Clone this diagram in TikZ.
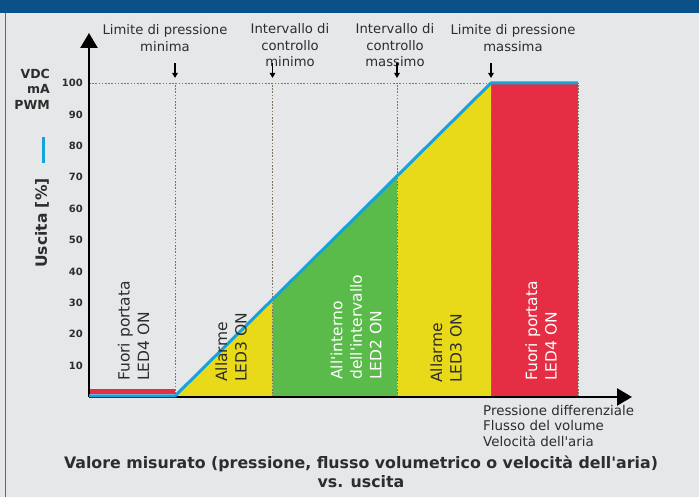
\documentclass[tikz,border=0pt]{standalone}
\usepackage{fontspec}
\setmainfont{DejaVu Sans}[Ligatures=TeXOff]
\usetikzlibrary{arrows.meta}
\definecolor{bgGray}{RGB}{230,231,233}
\definecolor{hdrBlue}{RGB}{11,81,137}
\definecolor{lineBlue}{RGB}{22,162,218}
\definecolor{zoneRed}{RGB}{229,45,68}
\definecolor{zoneYellow}{RGB}{232,218,24}
\definecolor{zoneGreen}{RGB}{90,186,74}
\definecolor{dotGray}{RGB}{125,115,95}
\definecolor{txtGray}{RGB}{45,45,45}

\begin{document}
\begin{tikzpicture}[x=1pt, y=1pt,
        axis/.style={line width=2.4pt, -{Triangle[length=15pt,width=17pt]}},
        marker/.style={line width=1.4pt, -{Triangle[length=5pt,width=5.5pt]}},
        guide/.style={dotGray, line width=0.9pt, dash pattern=on 1.6pt off 1.6pt},
        output/.style={lineBlue, line width=3pt, line join=round},
        toplabel/.style={align=center, text=txtGray, inner sep=0pt, font=\fontsize{13.2}{16.5}\selectfont},
        zonelabel/.style={rotate=90, anchor=west, align=left, inner sep=0pt, font=\fontsize{15.5}{19.5}\selectfont},
        tick/.style={anchor=east, inner sep=0pt, text=txtGray, font=\bfseries\fontsize{10}{12}\selectfont}]
    \useasboundingbox (0,0) rectangle (699,497);
    \fill[bgGray] (0,0) rectangle (699,497);
    \fill[hdrBlue] (0,484) rectangle (699,497);
    \draw[hdrBlue!80, line width=1pt] (5,0) -- (5,484);

    % zones under the output line
    \fill[zoneRed] (89,103) rectangle (175,108);                               % fuori portata, low
    \fill[zoneYellow] (175,100) -- (272.5,196.9) -- (272.5,100) -- cycle;      % allarme, low
    \fill[zoneGreen] (272.5,100) -- (272.5,196.9) -- (397,320.6) -- (397,100) -- cycle;
    \fill[zoneYellow] (397,100) -- (397,320.6) -- (491,414) -- (491,100) -- cycle;
    \fill[zoneRed] (491,100) rectangle (578,414);                              % fuori portata, high

    % guides
    \foreach \x in {175, 272.5, 397, 491, 578}
        \draw[guide] (\x,100) -- (\x,414);
    \draw[guide] (89,414) -- (491,414);

    % axes
    \coordinate (origin) at (89,100);
    \coordinate (ytip) at (89,464);
    \coordinate (xtip) at (632,100);
    \draw[axis] (origin) -- (ytip);
    \draw[axis] (origin) -- (xtip);

    % output
    \coordinate (o0) at (89,101);
    \coordinate (o1) at (175,101);
    \coordinate (o2) at (491,414);
    \coordinate (o3) at (578,414);
    \draw[output] (o0) -- (o1) -- (o2) -- (o3);

    \foreach \y in {10, 20, ..., 100}
        \node[tick] (tick\y) at (83, {100 + 3.14*\y}) {\y};

    \node[anchor=east, align=right, inner sep=0pt, text=txtGray, font=\bfseries\fontsize{12.5}{15.5}\selectfont] (units) at (50,408) {VDC\\mA\\PWM};
    \coordinate (barTop) at (43,360);
    \coordinate (barBot) at (43,334);
    \draw[lineBlue, line width=3pt] (barTop) -- (barBot);
    \node[rotate=90, inner sep=0pt, text=txtGray, font=\bfseries\fontsize{15.5}{18}\selectfont] (ylabel) at (42,274) {Uscita [\%]};

    % set points
    \node[toplabel] (pMin) at (165,459) {Limite di pressione\\minima};
    \node[toplabel] (cMin) at (290,451.5) {Intervallo di\\controllo\\minimo};
    \node[toplabel] (cMax) at (395,451.5) {Intervallo di\\controllo\\massimo};
    \node[toplabel] (pMax) at (513,459) {Limite di pressione\\massima};
    \foreach \x/\n in {175/a, 272.5/b, 397/c, 491/d} {
        \coordinate (from\n) at (\x,434);
        \coordinate (to\n) at (\x,419);
        \draw[marker] (from\n) -- (to\n);
    }

    \node[zonelabel, text=txtGray] (outLow) at (133.5,116) {Fuori portata\\LED4 ON};
    \node[zonelabel, text=txtGray] (alarmLow) at (231,115) {Allarme\\LED3 ON};
    \node[zonelabel, text=white] (inRange) at (356,117) {All'interno\\dell'intervallo\\LED2 ON};
    \node[zonelabel, text=txtGray] (alarmHigh) at (446,114) {Allarme\\LED3 ON};
    \node[zonelabel, text=white] (outHigh) at (541,116) {Fuori portata\\LED4 ON};

    \node[anchor=north west, align=left, inner sep=0pt, text=txtGray, font=\fontsize{13.4}{15.5}\selectfont] (xlabel) at (483,92) {Pressione differenziale\\Flusso del volume\\Velocità dell'aria};
    \node[align=center, inner sep=0pt, text=txtGray, font=\bfseries\fontsize{15.8}{19}\selectfont] (caption) at (361,25.5) {Valore misurato (pressione, flusso volumetrico o velocità dell'aria)\\vs. uscita};
\end{tikzpicture}
\end{document}
